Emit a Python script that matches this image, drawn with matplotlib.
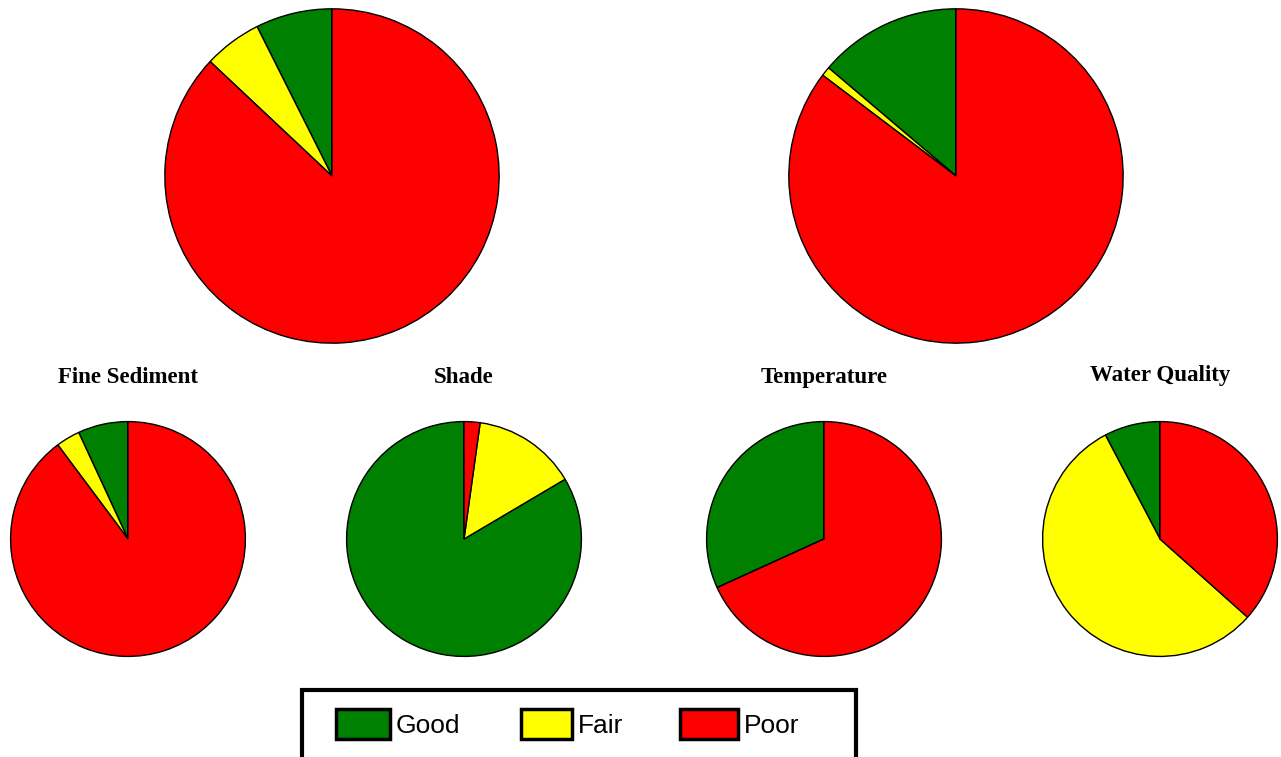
import numpy as np
import matplotlib
matplotlib.use("Agg")
import matplotlib.pyplot as plt
from matplotlib.patches import Rectangle

# share of reaches in each condition class (percent)
categories = ["Good", "Fair", "Poor"]
colours = ["#008000", "#FFFF00", "#FF0000"]

top_left = [7.4, 5.6, 87.0]
top_right = [13.8, 0.9, 85.3]
fine_sediment = [6.9, 3.3, 89.8]
shade = [83.5, 14.3, 2.2]
temperature = [31.8, 0.0, 68.2]
water_quality = [7.7, 55.7, 36.6]

small_titles = ["Fine Sediment", "Shade", "Temperature", "Water Quality"]
small_values = [fine_sediment, shade, temperature, water_quality]

W, H = 1281, 757
fig = plt.figure(figsize=(W / 100, H / 100), dpi=100)


def pie_axes(cx, cy, r):
    # pixel centre/radius -> figure fraction axes
    ax = fig.add_axes([(cx - r) / W, 1 - (cy + r) / H, 2 * r / W, 2 * r / H])
    ax.axis("off")
    return ax


def draw_pie(ax, vals):
    wedges, _ = ax.pie(vals, colors=colours, startangle=90, counterclock=True,
                       radius=1, wedgeprops=dict(edgecolor="black", linewidth=1))
    # pie() resets limits to +-1.25, so set them afterwards
    ax.set_xlim(-1.005, 1.005)
    ax.set_ylim(-1.005, 1.005)
    ax.set_aspect("equal")
    return wedges


# big pies
draw_pie(pie_axes(332, 176, 168), top_left)
draw_pie(pie_axes(956, 176, 168), top_right)

# small pies
centres = [128, 464, 824, 1160]
title_base = [383, 383, 383, 381]
handles = None
for cx, ty, t, v in zip(centres, title_base, small_titles, small_values):
    ax = pie_axes(cx, 539, 118)
    w = draw_pie(ax, v)
    if handles is None:
        handles = w
    fig.text(cx / W, 1 - ty / H, t, ha="center", va="baseline",
             family="Liberation Serif", fontweight="bold", fontsize=16.5)

# legend box (cut by the bottom edge like the original)
fig.patches.append(Rectangle((302 / W, 1 - 780 / H), 554 / W, 90 / H,
                             transform=fig.transFigure, fill=False,
                             edgecolor="black", linewidth=3, clip_on=False))

# one legend per entry so each key sits where it does in the original
fs = 19
em = fs * 100 / 72
key_left = [336, 521, 680]
key_width = [54, 51, 58]
for h, lab, x0, kw in zip(handles, categories, key_left, key_width):
    leg = fig.legend([h], [lab], loc="center left",
                     bbox_to_anchor=(x0 / W, 1 - 724 / H), frameon=False,
                     prop=dict(family="Liberation Sans", size=fs),
                     handlelength=kw / em, handleheight=35 / em,
                     handletextpad=6 / em, borderaxespad=0, borderpad=0)
    for p in leg.get_patches():
        p.set_linewidth(2.5)
        p.set_edgecolor("black")

fig.savefig("out.png", dpi=100)
